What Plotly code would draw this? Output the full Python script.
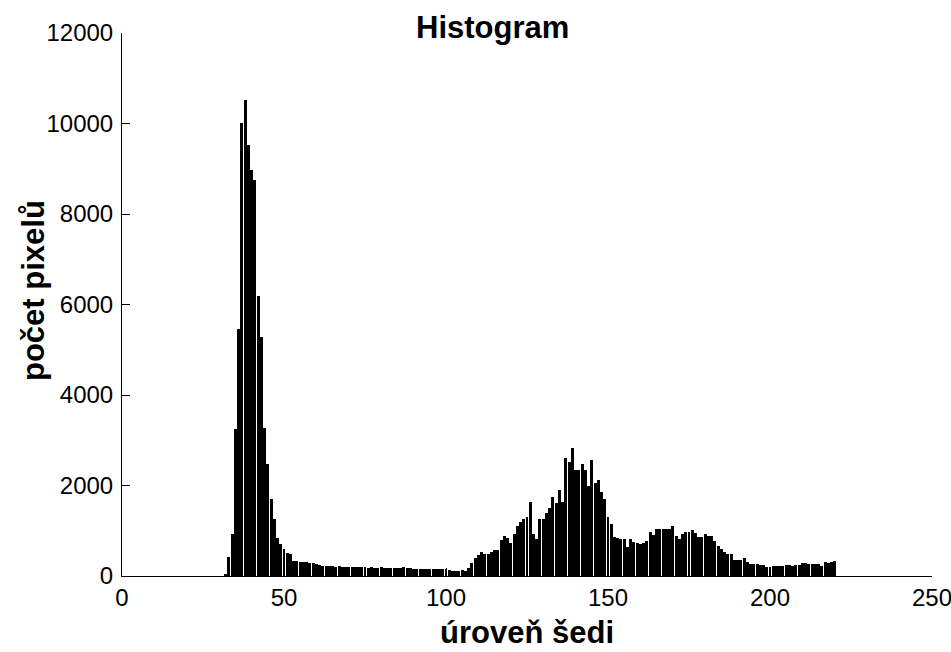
import plotly.graph_objects as go

# Gray levels (first level with a visible bar) and pixel counts per level
first_level = 32
pixel_counts = [
    # 32-41
    50, 412, 927, 3243, 5449, 10008, 10523, 9530, 8980, 8758,
    # 42-51
    6184, 5272, 3280, 2470, 1694, 1252, 850, 700, 590, 500,
    # 52-61
    480, 340, 330, 310, 310, 300, 290, 290, 260, 250,
    # 62-71
    230, 230, 220, 220, 210, 220, 210, 200, 200, 200,
    # 72-81
    190, 190, 200, 190, 185, 190, 180, 185, 190, 185,
    # 82-91
    180, 175, 185, 180, 185, 190, 180, 170, 165, 160,
    # 92-101
    160, 155, 160, 150, 155, 160, 150, 155, 150, 130,
    # 102-111
    115, 110, 120, 133, 100, 185, 295, 406, 470, 531,
    # 112-121
    479, 479, 520, 575, 575, 789, 884, 847, 737, 921,
    # 122-131
    1105, 1201, 1250, 1311, 1635, 936, 811, 1267, 1267, 1400,
    # 132-141
    1495, 1753, 1606, 1893, 1635, 2599, 2526, 2820, 2342, 2342,
    # 142-151
    2467, 2342, 1988, 2562, 2047, 2114, 1863, 1694, 1311, 1142,
    # 152-161
    869, 847, 811, 811, 649, 811, 752, 737, 700, 737,
    # 162-171
    774, 980, 900, 1031, 1031, 1046, 1046, 1046, 1105, 884,
    # 172-181
    825, 936, 972, 972, 1009, 958, 862, 862, 936, 884,
    # 182-191
    884, 774, 663, 604, 531, 479, 479, 347, 347, 347,
    # 192-201
    391, 310, 273, 258, 258, 244, 244, 199, 199, 222,
    # 202-211
    222, 222, 222, 251, 251, 222, 244, 244, 295, 295,
    # 212-220
    273, 273, 273, 273, 222, 310, 295, 300, 332,
]
gray_levels = [first_level + i for i in range(len(pixel_counts))]

x_ticks = [0, 50, 100, 150, 200, 250]
x_tick_labels = ["0", "50", "100", "150", "200", "250"]
y_ticks = [0, 2000, 4000, 6000, 8000, 10000, 12000]
y_tick_labels = ["0", "2000", "4000", "6000", "8000", "10000", "12000"]

title_text = "Histogram"
x_title = "úroveň šedi"
y_title = "počet pixelů"

FONT = "Liberation Sans, Arial, sans-serif"

fig = go.Figure()
fig.add_trace(go.Bar(
    x=gray_levels, y=pixel_counts, width=0.92,
    marker=dict(color="black", line=dict(width=0)),
    hoverinfo="skip",
))

W, H = 951, 652
ml, mr, mt, mb = 122, 19, 33, 76
fig.update_layout(
    width=W, height=H,
    margin=dict(l=ml, r=mr, t=mt, b=mb, pad=0),
    paper_bgcolor="white", plot_bgcolor="white",
    showlegend=False, bargap=0,
    font=dict(family=FONT, size=24, color="black"),
)
fig.update_xaxes(
    range=[0, 250], tickvals=x_ticks, ticktext=x_tick_labels,
    ticks="inside", ticklen=8, tickwidth=1, ticklabeloverflow="allow",
    tickcolor="black", showline=True, linecolor="black", linewidth=1,
    showgrid=False, zeroline=False, mirror=False, automargin=False,
    tickfont=dict(family=FONT, size=24, color="black"),
)
fig.update_yaxes(
    range=[0, 12000], tickvals=y_ticks, ticktext=y_tick_labels,
    ticks="inside", ticklen=8, tickwidth=1, ticklabeloverflow="allow",
    tickcolor="black", showline=True, linecolor="black", linewidth=1,
    showgrid=False, zeroline=False, mirror=False, ticklabelstandoff=3,
    automargin=False,
    tickfont=dict(family=FONT, size=24, color="black"),
)

plot_w = W - ml - mr
plot_h = H - mt - mb
def px_x(px):
    return (px - ml) / plot_w
def px_y(py):
    return (H - mb - py) / plot_h

fig.add_annotation(
    text="<b>%s</b>" % title_text, xref="paper", yref="paper",
    x=px_x(492), y=px_y(47), xanchor="center", yanchor="bottom",
    showarrow=False, font=dict(family=FONT, size=31, color="black"),
)
fig.add_annotation(
    text="<b>%s</b>" % x_title, xref="paper", yref="paper",
    x=0.5, y=px_y(652), xanchor="center", yanchor="bottom",
    showarrow=False, font=dict(family=FONT, size=31, color="black"),
)
fig.add_annotation(
    text="<b>%s</b>" % y_title, xref="paper", yref="paper",
    x=px_x(33), y=px_y(291), xanchor="center", yanchor="middle",
    textangle=-90, showarrow=False,
    font=dict(family=FONT, size=31, color="black"),
)

fig.write_html(
    "out.html",
    config={"displayModeBar": False},
    post_script="document.body.style.margin='0';",
)
